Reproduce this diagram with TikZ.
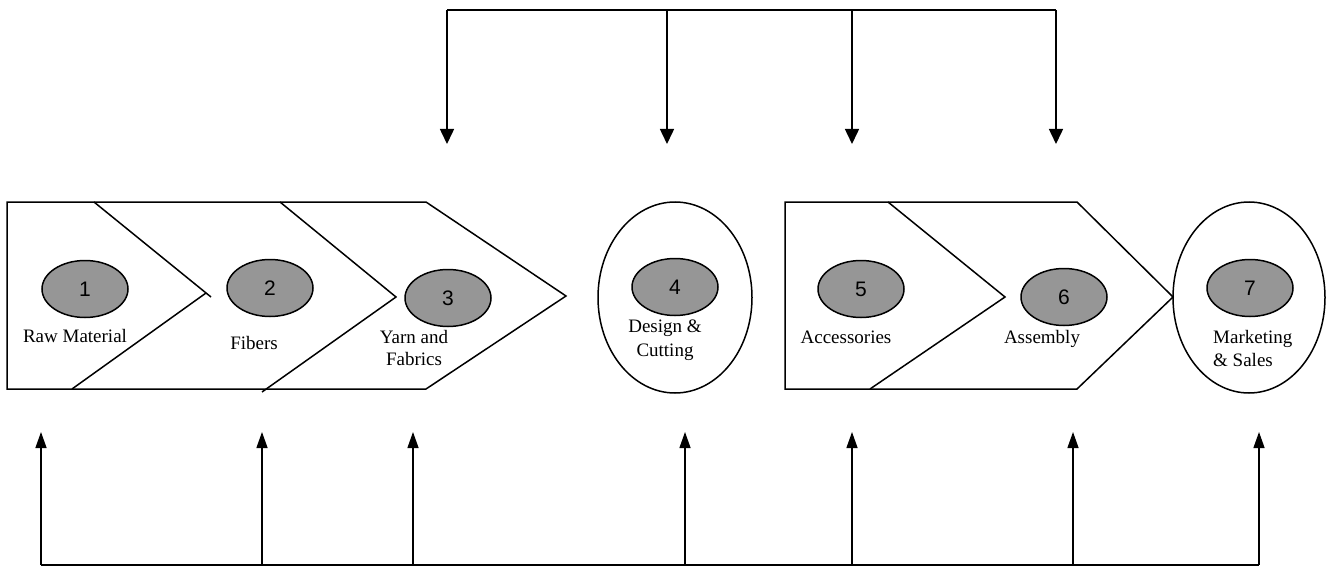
\documentclass[tikz,border=0pt]{standalone}
\usepackage{fontspec}
\setmainfont{Liberation Serif}
\newfontfamily\numfont{Liberation Sans}
\usetikzlibrary{arrows.meta,shapes.geometric}
\definecolor{nodegray}{RGB}{150,150,150}
\begin{document}
\begin{tikzpicture}[x=1pt,y=-1pt,
  ln/.style={line width=1.5pt, line join=miter},
  grayell/.style={ellipse, draw, line width=1.5pt, fill=nodegray, minimum width=86pt, minimum height=57pt, inner sep=0pt, font=\numfont\fontsize{21}{24}\selectfont},
  bigell/.style={ellipse, draw, line width=1.5pt, inner sep=0pt},
  lbl/.style={anchor=base, inner sep=0pt, font=\fontsize{19}{22}\selectfont, align=center},
  downarr/.style={line width=1.5pt, -{Triangle[length=15pt,width=14pt]}},
  uparr/.style={line width=1.3pt, -{Triangle[length=16pt,width=11pt]}}
]
\useasboundingbox (0,0) rectangle (1328,567);

% chevron group 1
\draw[ln] (7,202) -- (426,202) -- (566,296) -- (426,389) -- (7,389) -- cycle;
\coordinate (c1t) at (94,202);
\coordinate (c1p) at (206,293);
\coordinate (c1x) at (211,297);
\coordinate (c1b) at (72,389);
\draw[ln] (c1t) -- (c1x);
\draw[ln] (c1b) -- (c1p);
\coordinate (c2t) at (280,202);
\coordinate (c2p) at (396,297);
\coordinate (c2b) at (262,392);
\draw[ln] (c2t) -- (c2p) -- (c2b);

% big ellipse 4
\node[bigell, minimum width=154pt, minimum height=191pt] (e4) at (675,297.5) {};

% chevron group 2
\draw[ln] (785,202) -- (1077,202) -- (1173,297) -- (1077,389) -- (785,389) -- cycle;
\coordinate (c5t) at (888,202);
\coordinate (c5p) at (1005,297);
\coordinate (c5b) at (870,389);
\draw[ln] (c5t) -- (c5p) -- (c5b);

% big ellipse 7
\node[bigell, minimum width=152pt, minimum height=191pt] (e7) at (1249,297.5) {};

% gray numbered ellipses
\node[grayell] (n1) at (85,289) {1};
\node[grayell] (n2) at (270,288) {2};
\node[grayell] (n3) at (448,298) {3};
\node[grayell] (n4) at (675,287) {4};
\node[grayell] (n5) at (861,289) {5};
\node[grayell] (n6) at (1064,297) {6};
\node[grayell] (n7) at (1250,288) {7};

% labels
\node[lbl] (l1) at (75,342) {Raw Material};
\node[lbl] (l2) at (254,349) {Fibers};
\node[lbl] (l3a) at (414,343) {Yarn and};
\node[lbl] (l3b) at (414,365) {Fabrics};
\node[lbl] (l4a) at (665,332) {Design \&};
\node[lbl] (l4b) at (665,356) {Cutting};
\node[lbl] (l5) at (846,343) {Accessories};
\node[lbl] (l6) at (1042,343) {Assembly};
\node[lbl, anchor=base west] (l7a) at (1213,343) {Marketing};
\node[lbl, anchor=base west] (l7b) at (1213,366) {\& Sales};

% top distribution bus
\coordinate (tb1) at (447,10);
\coordinate (tb2) at (667,10);
\coordinate (tb3) at (852,10);
\coordinate (tb4) at (1056,10);
\coordinate (ta1) at (447,144);
\coordinate (ta2) at (667,144);
\coordinate (ta3) at (852,144);
\coordinate (ta4) at (1056,144);
\draw[ln] (tb1) -- (tb4);
\foreach \i in {1,...,4} \draw[downarr] (tb\i) -- (ta\i);

% bottom bus
\coordinate (bb1) at (41,565);
\coordinate (bb2) at (262,565);
\coordinate (bb3) at (413,565);
\coordinate (bb4) at (685,565);
\coordinate (bb5) at (852,565);
\coordinate (bb6) at (1073,565);
\coordinate (bb7) at (1259,565);
\coordinate (ba1) at (41,432);
\coordinate (ba2) at (262,432);
\coordinate (ba3) at (413,432);
\coordinate (ba4) at (685,432);
\coordinate (ba5) at (852,432);
\coordinate (ba6) at (1073,432);
\coordinate (ba7) at (1259,432);
\draw[ln] (bb1) -- (bb7);
\foreach \i in {1,...,7} \draw[uparr] (bb\i) -- (ba\i);
\end{tikzpicture}
\end{document}
